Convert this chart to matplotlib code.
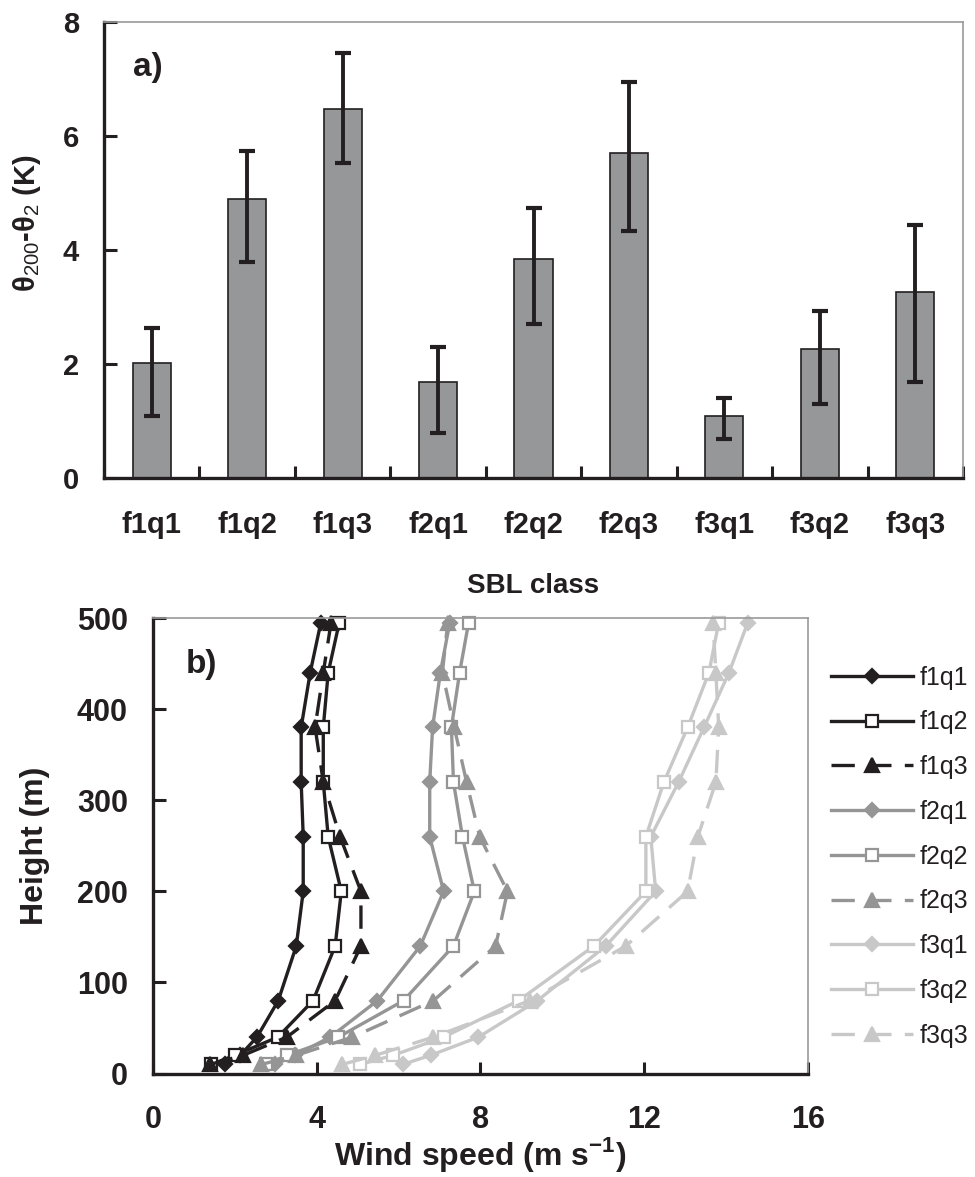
import numpy as np
import matplotlib
matplotlib.use('Agg')
import matplotlib.pyplot as plt

plt.rcParams['font.family'] = ['Liberation Sans', 'DejaVu Sans']
plt.rcParams['mathtext.fontset'] = 'custom'
plt.rcParams['mathtext.rm'] = 'Liberation Sans'
plt.rcParams['mathtext.bf'] = 'Liberation Sans:bold'

# panel a) temperature difference per SBL class
classes = ['f1q1', 'f1q2', 'f1q3', 'f2q1', 'f2q2', 'f2q3', 'f3q1', 'f3q2', 'f3q3']
dtheta = [2.02, 4.89, 6.47, 1.69, 3.84, 5.71, 1.09, 2.26, 3.26]
err_low = [1.09, 3.79, 5.53, 0.79, 2.70, 4.33, 0.68, 1.29, 1.69]
err_high = [2.64, 5.74, 7.45, 2.29, 4.73, 6.94, 1.40, 2.93, 4.43]

# panel b) wind speed profiles
heights = [10, 20, 40, 80, 140, 200, 260, 320, 380, 440, 495]
f1q1 = [1.76, 2.13, 2.54, 3.06, 3.50, 3.67, 3.67, 3.62, 3.62, 3.84, 4.10]
f1q2 = [1.42, 2.00, 3.05, 3.91, 4.45, 4.60, 4.28, 4.16, 4.16, 4.28, 4.55]
f1q3 = [1.39, 2.20, 3.27, 4.45, 5.08, 5.08, 4.57, 4.16, 3.96, 4.16, 4.35]
f2q1 = [2.98, 3.47, 4.33, 5.48, 6.53, 7.10, 6.76, 6.76, 6.83, 7.02, 7.25]
f2q2 = [2.75, 3.28, 4.53, 6.12, 7.34, 7.85, 7.56, 7.34, 7.29, 7.49, 7.71]
f2q3 = [2.65, 3.50, 4.87, 6.85, 8.37, 8.66, 7.98, 7.66, 7.36, 7.07, 7.20]
f3q1 = [6.10, 6.78, 7.95, 9.39, 11.06, 12.28, 12.16, 12.84, 13.46, 14.07, 14.53]
f3q2 = [5.06, 5.87, 7.10, 8.93, 10.77, 12.04, 12.04, 12.48, 13.06, 13.58, 13.82]
f3q3 = [4.62, 5.43, 6.85, 9.20, 11.55, 13.06, 13.31, 13.75, 13.82, 13.75, 13.68]

black = '#231f20'
mid = '#959595'
light = '#c8c8c8'
spine_gray = '#9a9a9a'

fig = plt.figure(figsize=(9.75, 11.77), dpi=100)

# ---------------- panel a ----------------
ax1 = fig.add_axes([0.1067, 0.5939, 0.881, 0.3874])
x = np.arange(len(classes))
dt = np.array(dtheta)
yerr = [dt - np.array(err_low), np.array(err_high) - dt]
ax1.bar(x, dt, width=0.40, color='#969798', edgecolor=black, linewidth=1.2, zorder=2)
ax1.errorbar(x, dt, yerr=yerr, fmt='none', ecolor=black, elinewidth=2.8,
             capsize=5.5, capthick=3, zorder=3)
ax1.set_xlim(-0.5, len(classes) - 0.5)
ax1.set_ylim(0, 8)
ax1.set_yticks([0, 2, 4, 6, 8])
ax1.set_xticks(np.arange(len(classes) + 1) - 0.5)
ax1.set_xticklabels([])
ax1.set_xticks(x, minor=True)
ax1.set_xticklabels(classes, minor=True)
ax1.tick_params(axis='x', which='major', direction='in', length=9, width=2.2, color=black)
ax1.tick_params(axis='x', which='minor', length=0, pad=24, labelsize=21)
ax1.tick_params(axis='y', direction='in', length=9, width=2.2, color=black, pad=18, labelsize=21)
for lab in ax1.get_xticklabels(minor=True) + ax1.get_yticklabels():
    lab.set_fontweight('bold')
    lab.set_color(black)
ax1.set_xlabel('SBL class', fontsize=20, fontweight='bold', color=black, labelpad=24)
ax1.set_ylabel(r'θ$_{200}$-θ$_2$ (K)', fontsize=21, fontweight='bold', color=black)
ax1.yaxis.set_label_coords(-0.071, 0.56)
ax1.text(0.034, 0.90, 'a)', transform=ax1.transAxes, fontsize=24, fontweight='bold',
         color=black, va='center')

# ---------------- panel b ----------------
ax2 = fig.add_axes([0.1569, 0.0879, 0.6718, 0.3870])
series = [
    ('f1q1', f1q1, black, 'D', '-', black),
    ('f1q2', f1q2, black, 's', '-', 'white'),
    ('f1q3', f1q3, black, '^', '--', black),
    ('f2q1', f2q1, mid, 'D', '-', mid),
    ('f2q2', f2q2, mid, 's', '-', 'white'),
    ('f2q3', f2q3, mid, '^', '--', mid),
    ('f3q1', f3q1, light, 'D', '-', light),
    ('f3q2', f3q2, light, 's', '-', 'white'),
    ('f3q3', f3q3, light, '^', '--', light),
]
for name, vals, col, mk, ls, face in series:
    ms = {'D': 7.5, 's': 9, '^': 10}[mk]
    line, = ax2.plot(vals, heights, color=col, marker=mk, linestyle=ls, linewidth=2.4,
                     markersize=ms, markerfacecolor=face, markeredgecolor=col,
                     markeredgewidth=1.6, label=name, clip_on=False)
    if ls == '--':
        line.set_dashes((7, 4))

ax2.set_xlim(0, 16)
ax2.set_ylim(0, 500)
ax2.set_xticks([0, 4, 8, 12, 16])
ax2.set_yticks([0, 100, 200, 300, 400, 500])
ax2.tick_params(axis='both', direction='in', length=9, width=2.2, color=black, labelsize=22)
ax2.tick_params(axis='x', pad=23)
ax2.tick_params(axis='y', pad=18)
for lab in ax2.get_xticklabels() + ax2.get_yticklabels():
    lab.set_fontweight('bold')
    lab.set_color(black)
ax2.set_xlabel(r'Wind speed (m s$^{\mathbf{-1}}$)', fontsize=23, fontweight='bold', color=black, labelpad=0)
ax2.set_ylabel('Height (m)', fontsize=23, fontweight='bold', color=black)
ax2.yaxis.set_label_coords(-0.157, 0.5)
ax2.text(0.05, 0.897, 'b)', transform=ax2.transAxes, fontsize=24, fontweight='bold',
         color=black, va='center')

for ax in (ax1, ax2):
    ax.spines['left'].set_linewidth(2.4)
    ax.spines['bottom'].set_linewidth(2.4)
    ax.spines['left'].set_color(black)
    ax.spines['bottom'].set_color(black)
    ax.spines['top'].set_linewidth(1.2)
    ax.spines['right'].set_linewidth(1.2)
    ax.spines['top'].set_color(spine_gray)
    ax.spines['right'].set_color(spine_gray)

leg = fig.legend(loc='upper left', bbox_to_anchor=(0.852, 0.4345), frameon=False,
                 fontsize=18, handlelength=3.3, handletextpad=0.25, labelspacing=0.83,
                 borderpad=0, borderaxespad=0)
for t in leg.get_texts():
    t.set_color(black)

fig.savefig('out.png', dpi=100)
